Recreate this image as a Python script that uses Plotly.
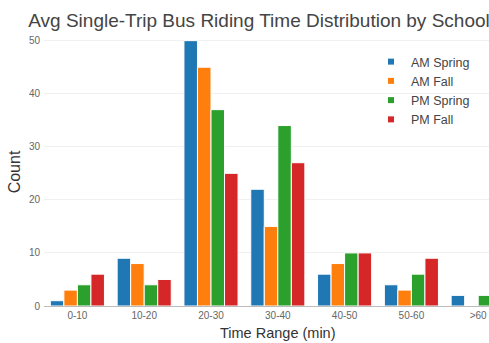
import plotly.graph_objects as go

categories = ["0-10", "10-20", "20-30", "30-40", "40-50", "50-60", ">60"]
am_spring = [1, 9, 50, 22, 6, 4, 2]
am_fall = [3, 8, 45, 15, 8, 3, 0]
pm_spring = [4, 4, 37, 34, 10, 6, 2]
pm_fall = [6, 5, 25, 27, 10, 9, 0]

series = [
    ("AM Spring", am_spring, "#1f77b4"),
    ("AM Fall", am_fall, "#ff7f0e"),
    ("PM Spring", pm_spring, "#2ca02c"),
    ("PM Fall", pm_fall, "#d62728"),
]

FONT = "Liberation Sans, Arial, sans-serif"
W, H = 489, 343
ML, MR, MT, MB = 44, 0, 38, 37
plot_w = W - ML - MR
plot_h = H - MT - MB

fig = go.Figure()
for name, vals, col in series:
    fig.add_trace(go.Bar(
        x=categories, y=vals, name=name, showlegend=False,
        marker=dict(color=col, line=dict(color="white", width=1)),
    ))
for name, vals, col in series:
    fig.add_trace(go.Scatter(
        x=[None], y=[None], mode="markers", name=name,
        marker=dict(symbol="square", size=6, color=col),
    ))

fig.update_layout(
    template="none",
    width=W, height=H,
    margin=dict(l=ML, r=MR, t=MT, b=MB, pad=0, autoexpand=False),
    paper_bgcolor="white", plot_bgcolor="white",
    font=dict(family=FONT, color="#444"),
    title=dict(text="Avg Single-Trip Bus Riding Time Distribution by School",
               x=259 / W, xanchor="center", xref="container",
               y=1 - 20 / H, yanchor="middle",
               font=dict(size=19, color="#444", family=FONT)),
    barmode="group", bargap=0.19, bargroupgap=0,
    showlegend=True,
    legend=dict(x=(371 - ML) / plot_w, y=1 - (47 - MT) / plot_h,
                xanchor="left", yanchor="top",
                font=dict(size=12.5, color="#444"), bgcolor="rgba(0,0,0,0)",
                borderwidth=0, tracegroupgap=0),
    xaxis=dict(range=[-0.5, -0.5 + plot_w / 66.8], showgrid=False, showline=True,
               automargin=False, zeroline=False,
               linecolor="#bbb", linewidth=1, ticks="", tickfont=dict(size=10, color="#666")),
    yaxis=dict(range=[0, 50.5], tickvals=[0, 10, 20, 30, 40, 50], showgrid=True,
               automargin=False, showline=False,
               gridcolor="#f0f0f0", gridwidth=1, zeroline=False, ticks="", ticklabelstandoff=3,
               tickfont=dict(size=10, color="#666"),
               title=dict(text="Count", font=dict(size=16, color="#333"), standoff=4)),
    annotations=[dict(text="Time Range (min)", xref="paper", x=(278 - ML) / plot_w,
                      yref="paper", y=-(333 - 306) / plot_h,
                      showarrow=False, font=dict(size=14.5, color="#333"),
                      xanchor="center", yanchor="middle")],
)
fig.write_html("out.html", config={"displayModeBar": False},
               post_script="document.body.style.margin='0';document.body.style.overflow='hidden';")
